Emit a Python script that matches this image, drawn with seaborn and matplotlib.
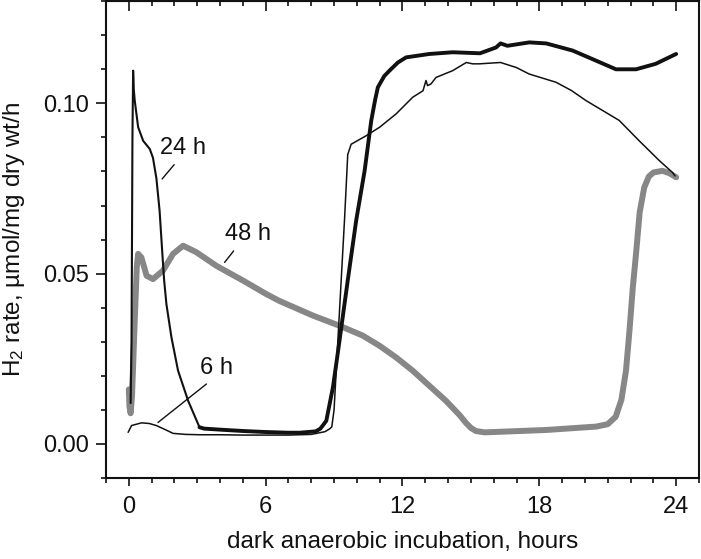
import matplotlib
matplotlib.use("Agg")
import matplotlib.pyplot as plt
from matplotlib.ticker import MultipleLocator
import seaborn as sns
import pandas as pd

# values (hours, umol/mg dry wt/h)
h24_x = [0.08, 0.12, 0.16, 0.19, 0.22, 0.26, 0.41, 0.63, 0.92, 1.06, 1.21, 1.35, 1.47, 1.55,
         1.65, 1.87, 2.16, 2.6, 3.1, 3.3, 4.0, 5.0, 6.0, 7.0, 7.5, 8.2, 8.4, 8.55, 8.66, 8.95,
         9.17, 9.6, 9.97, 10.34, 10.63, 10.8, 10.92, 11.2, 11.43, 11.8, 12.16, 13.18, 14.2,
         15.4, 16.1, 16.3, 16.6, 17.56, 18.3, 19.46, 20.5, 21.36, 22.24, 23.1, 24.0]
h24_y = [0.012, 0.03, 0.09, 0.1096, 0.104, 0.1008, 0.093, 0.089, 0.0866, 0.084, 0.078, 0.0685,
         0.056, 0.048, 0.041, 0.0313, 0.0215, 0.0127, 0.0049, 0.0045, 0.0042, 0.0038, 0.0035,
         0.0033, 0.0033, 0.0037, 0.0045, 0.0058, 0.0068, 0.0166, 0.027, 0.048, 0.0656, 0.0802,
         0.0949, 0.101, 0.1047, 0.108, 0.1096, 0.112, 0.1135, 0.1145, 0.115, 0.1147, 0.1164,
         0.1176, 0.1169, 0.1179, 0.1176, 0.1155, 0.1125, 0.110, 0.110, 0.1116, 0.1145]

h6_x = [-0.03, 0.12, 0.56, 0.9, 1.21, 1.6, 1.94, 2.5, 3.1, 4.0, 5.0, 6.0, 7.0, 8.0, 8.6, 8.8,
        8.9, 9.0, 9.46, 9.6, 9.75, 10.41, 11.0, 11.72, 12.45, 12.9, 13.03, 13.1, 13.25, 13.47,
        14.2, 14.8, 15.08, 15.37, 16.3, 17.0, 17.56, 18.73, 19.4, 20.05, 20.9, 21.5, 22.38,
        23.26, 23.84, 23.95]
h6_y = [0.0034, 0.0054, 0.0062, 0.006, 0.0054, 0.0042, 0.0031, 0.0028, 0.0027, 0.0027, 0.0026,
        0.0026, 0.0026, 0.0028, 0.0036, 0.0044, 0.005, 0.010, 0.066, 0.085, 0.088, 0.0905,
        0.093, 0.0969, 0.1018, 0.1037, 0.1067, 0.1052, 0.1057, 0.1076, 0.1096, 0.112, 0.1116,
        0.1116, 0.112, 0.1105, 0.1086, 0.1062, 0.1038, 0.1008, 0.0974, 0.095, 0.089, 0.0832,
        0.0797, 0.0787]

h48_x = [0.0, 0.03, 0.08, 0.14, 0.2, 0.26, 0.35, 0.41, 0.55, 0.78, 1.06, 1.5, 1.94, 2.38, 2.96,
         3.84, 5.0, 6.03, 6.6, 8.07, 9.24, 10.26, 11.0, 11.72, 12.45, 13.9, 14.5, 14.78, 15.0,
         15.22, 15.6, 18.3, 20.5, 21.0, 21.35, 21.6, 21.8, 21.95, 22.1, 22.24, 22.4, 22.6, 22.8,
         23.0, 23.4, 23.7, 24.0]
h48_y = [0.016, 0.011, 0.009, 0.014, 0.025, 0.0362, 0.052, 0.0558, 0.0548, 0.0494, 0.0484,
         0.0509, 0.0558, 0.0582, 0.0563, 0.0523, 0.048, 0.044, 0.042, 0.0377, 0.0347, 0.0318,
         0.0288, 0.0254, 0.0215, 0.0127, 0.0085, 0.0062, 0.0047, 0.0038, 0.0034, 0.0041, 0.0051,
         0.0058, 0.0080, 0.013, 0.0215, 0.033, 0.046, 0.0558, 0.068, 0.0753, 0.0785, 0.0797,
         0.0802, 0.0795, 0.0783]

x_major = [0, 6, 12, 18, 24]
y_major = [0.00, 0.05, 0.10]

sns.set_style("ticks")
plt.rcParams['font.family'] = ['Liberation Sans', 'DejaVu Sans']
plt.rcParams['mathtext.fontset'] = 'custom'
plt.rcParams['mathtext.rm'] = 'Liberation Sans'
plt.rcParams['mathtext.it'] = 'Liberation Sans:italic'

df24 = pd.DataFrame({'hours': h24_x, 'rate': h24_y})
df6 = pd.DataFrame({'hours': h6_x, 'rate': h6_y})
df48 = pd.DataFrame({'hours': h48_x, 'rate': h48_y})

fig = plt.figure(figsize=(7.01, 5.59), dpi=100)
ax = fig.add_axes([0.1512, 0.1449, 0.8459, 0.853])

sns.lineplot(data=df48, x='hours', y='rate', color='#878787', lw=4.3, ax=ax,
             estimator=None, sort=False, solid_capstyle='round', solid_joinstyle='round')
sns.lineplot(data=df6, x='hours', y='rate', color='#111111', lw=1.1, ax=ax,
             estimator=None, sort=False)
# the 24 h trace is drawn thinner over its first three hours
early = df24[df24.hours <= 3.1]
late = df24[df24.hours >= 3.1]
sns.lineplot(data=early, x='hours', y='rate', color='#111111', lw=1.5, ax=ax,
             estimator=None, sort=False)
sns.lineplot(data=late, x='hours', y='rate', color='#111111', lw=2.8, ax=ax,
             estimator=None, sort=False, solid_capstyle='round', solid_joinstyle='round')

ax.set_xlim(-1, 25)
ax.set_ylim(-0.01, 0.13)
ax.set_xticks(x_major)
ax.set_yticks(y_major)
ax.set_yticklabels([f"{v:.2f}" for v in y_major])
ax.xaxis.set_minor_locator(MultipleLocator(1))
ax.yaxis.set_minor_locator(MultipleLocator(0.01))

for s in ax.spines.values():
    s.set_linewidth(1.5)
    s.set_color('#111111')

ax.tick_params(axis='both', which='both', labelsize=17, width=1.2, color='#111111',
               labelcolor='#111111')
ax.tick_params(axis='y', which='major', length=7, pad=5)
ax.tick_params(axis='y', which='minor', length=3.5)
ax.tick_params(axis='x', which='major', length=6, pad=7)
ax.tick_params(axis='x', which='minor', length=3.5)

top = ax.secondary_xaxis('top')
top.set_xticks(x_major)
top.xaxis.set_minor_locator(MultipleLocator(1))
top.tick_params(axis='x', which='both', direction='in', labeltop=False, width=1.2,
                color='#111111')
top.tick_params(axis='x', which='major', length=7)
top.tick_params(axis='x', which='minor', length=3.5)
top.spines['top'].set_linewidth(1.5)

ax.set_xlabel("dark anaerobic incubation, hours", fontsize=17.5, color='#111111')
ax.set_ylabel(r"H$_\mathregular{2}$ rate, µmol/mg dry wt/h", fontsize=17.5, color='#111111')
ax.xaxis.set_label_coords(0.5, -0.112)
ax.yaxis.set_label_coords(-0.133, 0.5)

leader = dict(arrowstyle='-', color='#111111', lw=1.0, shrinkA=2, shrinkB=0)
ax.annotate("24 h", xy=(1.46, 0.0778), xytext=(2.39, 0.0868), ha='center', va='center',
            fontsize=17, color='#111111', arrowprops=dict(leader, relpos=(0.4, 0)))
ax.annotate("48 h", xy=(4.2, 0.0533), xytext=(5.23, 0.0615), ha='center', va='center',
            fontsize=17, color='#111111', arrowprops=dict(leader, relpos=(0.28, 0)))
ax.annotate("6 h", xy=(1.28, 0.0063), xytext=(3.84, 0.0223), ha='center', va='center',
            fontsize=17, color='#111111', arrowprops=dict(leader, relpos=(0.39, 0)))

fig.savefig("out.png", dpi=100)
